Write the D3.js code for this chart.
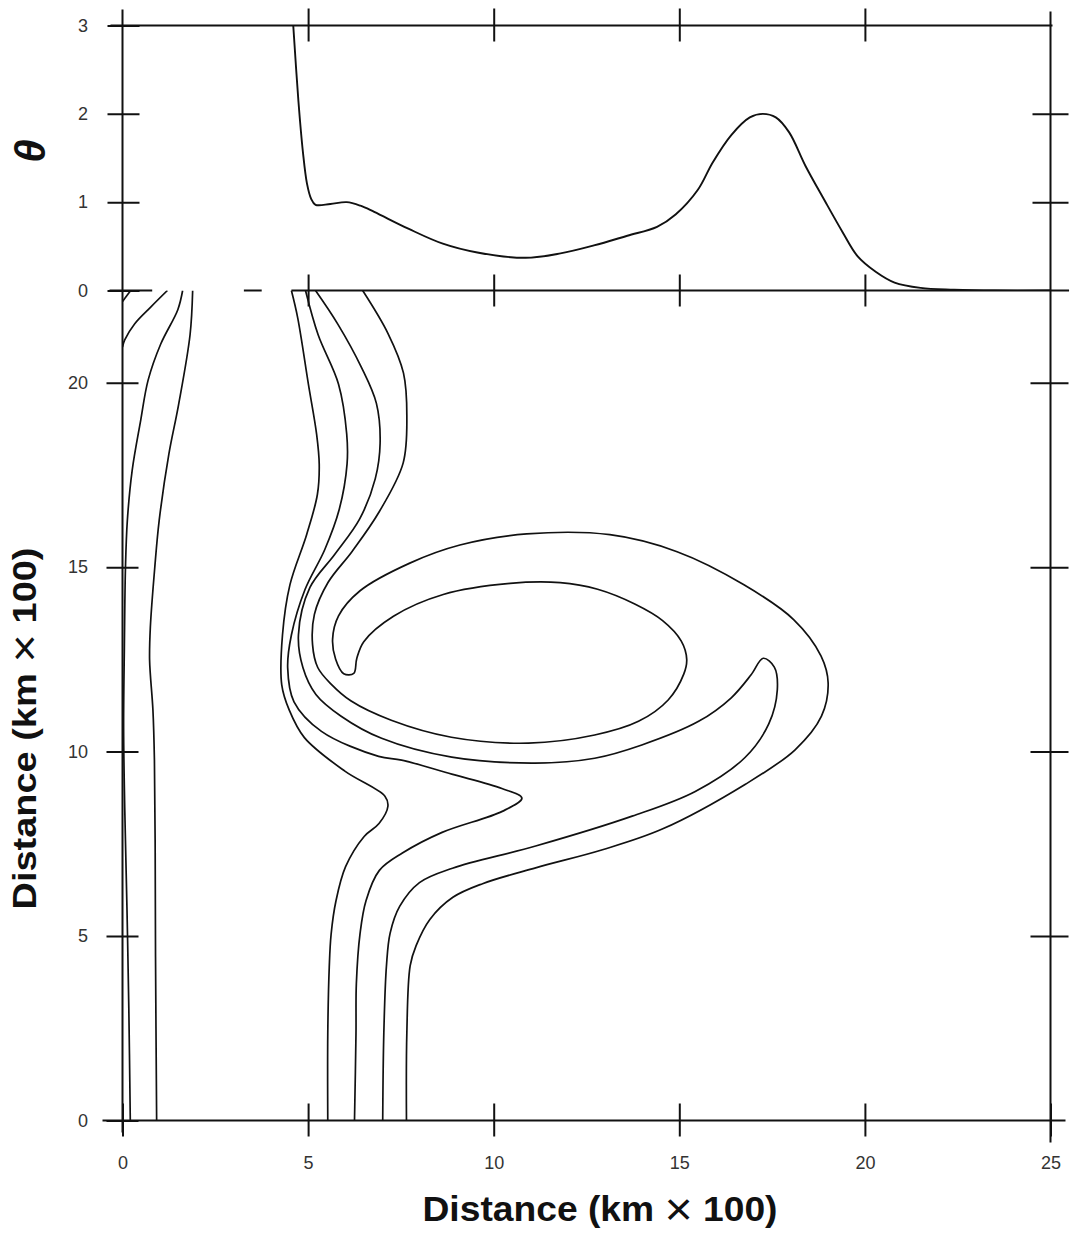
<!DOCTYPE html>
<html><head><meta charset="utf-8">
<script src="https://cdn.jsdelivr.net/npm/d3@7"></script>
<style>body{margin:0;background:#fff}svg{display:block}</style>
</head><body>
<svg id="chart" width="1070" height="1235"></svg>
<script>
// ---------- data ----------
const xTickValues = [0, 5, 10, 15, 20, 25];
const thetaTickValues = [0, 1, 2, 3];
const yTickValues = [0, 5, 10, 15, 20];
const thetaInnerTicks = [5, 10, 15, 20];
const rightThetaTicks = [1, 2];
const rightYTicks = [5, 10, 15, 20];

// theta profile (top panel)
const thetaDist = [4.6, 4.74, 4.86, 4.97, 5.08, 5.2, 5.6, 6.04, 6.41, 6.78, 7.7, 8.63, 9.56, 10.86, 11.8, 12.7, 13.6, 14.4, 14.9, 15.5, 15.9, 16.4, 16.9, 17.25, 17.6, 17.96, 18.4, 18.9, 19.4, 19.8, 20.3, 20.8, 21.5, 22.4, 23.5, 25];
const thetaVal  = [3.0, 2.14, 1.57, 1.21, 1.04, 0.97, 0.98, 1.0, 0.96, 0.89, 0.70, 0.53, 0.43, 0.37, 0.42, 0.51, 0.62, 0.72, 0.86, 1.14, 1.45, 1.76, 1.96, 2.0, 1.96, 1.79, 1.41, 1.03, 0.66, 0.39, 0.21, 0.09, 0.03, 0.01, 0.0, 0.0];

// visible pieces of the theta = 0 line (scan has gaps)
const baselineSegments = [[-0.35, 0.8], [3.27, 3.75], [4.55, 25.5]];

// contour lines (distance x, distance y)
const contourCorner = [[0.0, 22.2], [0.22, 22.5]];
const contourLeftA = [[1.21, 22.5], [0.76, 22.05], [0.33, 21.6], [0.06, 21.16], [0.0, 20.97]];
const contourLeftB = [[1.62, 22.5], [1.49, 21.98], [1.03, 21.05], [0.69, 20.07], [0.49, 18.98], [0.26, 17.62], [0.13, 16.26], [0.08, 14.99], [0.05, 12.8], [0.03, 10.65], [0.06, 8.48], [0.12, 5.77], [0.17, 3.06], [0.21, 0]];
const contourLeftC = [[1.89, 22.5], [1.82, 21.3], [1.51, 19.4], [1.25, 18.07], [0.99, 16.28], [0.87, 15.0], [0.75, 13.37], [0.73, 12.48], [0.82, 11.12], [0.86, 9.77], [0.88, 7.41], [0.89, 4.43], [0.92, 0]];

const contourT1 = [[4.55, 22.5], [4.72, 21.76], [5.01, 19.95], [5.23, 18.6], [5.3, 17.78], [5.25, 16.97], [4.96, 15.88], [4.51, 14.52], [4.31, 13.16], [4.29, 11.81], [4.49, 11.13], [4.9, 10.38], [5.99, 9.47], [7.07, 8.79], [7.15, 8.52], [6.91, 8.05], [6.51, 7.7], [6.01, 6.88], [5.75, 5.95], [5.62, 5.05], [5.57, 4.16], [5.53, 2.34], [5.53, 0]];
const contourT2 = [[4.93, 22.5], [5.27, 21.3], [5.82, 19.96], [6.04, 18.61], [6.05, 17.8], [5.84, 16.57], [5.45, 15.48], [4.92, 14.4], [4.55, 13.16], [4.45, 12.27], [4.62, 11.35], [5.36, 10.55], [6.9, 9.87], [7.52, 9.77], [8.87, 9.39], [10.22, 9.0], [10.76, 8.74], [10.23, 8.38], [8.61, 7.81], [7.54, 7.25], [6.92, 6.78], [6.56, 5.96], [6.4, 5.07], [6.3, 3.71], [6.29, 2.35], [6.25, 0]];
const contourT3 = [[5.2, 22.5], [5.8, 21.59], [6.43, 20.43], [6.84, 19.44], [6.94, 18.36], [6.81, 17.4], [6.39, 16.31], [5.72, 15.35], [5.05, 14.45], [4.74, 13.17], [4.86, 12.28], [5.21, 11.55], [5.89, 10.96], [6.98, 10.36], [8.87, 9.85], [11.11, 9.69], [12.72, 9.82], [13.99, 10.18], [15.52, 10.82], [16.4, 11.46], [16.94, 12.09], [17.26, 12.53], [17.56, 12.29], [17.64, 11.67], [17.41, 10.75], [16.77, 9.84], [15.43, 8.92], [13.73, 8.25], [11.13, 7.44], [8.89, 6.84], [8.0, 6.45], [7.47, 5.81], [7.21, 5.08], [7.11, 4.18], [7.04, 2.37], [7.01, 0]];
const contourT4 = [[6.47, 22.5], [7.15, 21.34], [7.57, 20.26], [7.66, 19.1], [7.56, 17.82], [6.92, 16.51], [6.18, 15.42], [5.54, 14.59], [5.17, 13.72], [5.12, 12.9], [5.26, 12.28], [5.62, 11.83], [6.16, 11.37], [7.24, 10.85], [8.86, 10.39], [10.94, 10.23], [12.72, 10.45], [13.9, 10.82], [14.7, 11.4], [15.12, 12.1], [15.2, 12.5], [15.05, 13.0], [14.55, 13.55], [13.8, 14.0], [12.8, 14.4], [11.79, 14.58], [10.44, 14.56], [8.64, 14.26], [7.3, 13.67], [6.5, 12.98], [6.31, 12.52], [6.23, 12.12], [5.96, 12.11], [5.74, 12.51], [5.66, 13.05], [5.82, 13.68], [6.4, 14.36], [7.74, 15.11], [9.09, 15.6], [10.89, 15.9], [13.13, 15.88], [14.94, 15.42], [16.73, 14.53], [18.08, 13.58], [18.82, 12.59], [19.01, 11.86], [18.83, 10.96], [18.12, 10.05], [16.77, 9.11], [14.54, 7.9], [12.93, 7.34], [11.13, 6.85], [9.7, 6.42], [8.9, 6.05], [8.28, 5.45], [7.91, 4.74], [7.75, 4.2], [7.66, 2.37], [7.65, 0]];

const contours = [contourCorner, contourLeftA, contourLeftB, contourLeftC, contourT1, contourT2, contourT3, contourT4];

// ---------- scales ----------
const x = d3.scaleLinear().domain([0, 25]).range([122.5, 1050.5]);
const yT = d3.scaleLinear().domain([0, 3]).range([290.5, 25.5]);
const yB = d3.scaleLinear().domain([0, 22.5]).range([1120.5, 290.5]);

const svg = d3.select("#chart");
const INK = "#111";
const FONT = "'Liberation Sans', Arial, Helvetica, sans-serif";

// clip paths
const defs = svg.append("defs");
defs.append("clipPath").attr("id", "clipB")
  .append("rect").attr("x", x(0)).attr("y", yB(22.5))
  .attr("width", x(25) - x(0)).attr("height", yB(0) - yB(22.5));
defs.append("clipPath").attr("id", "clipT")
  .append("rect").attr("x", x(0)).attr("y", yT(3))
  .attr("width", x(25) - x(0)).attr("height", yT(0) - yT(3));

// ---------- frame lines ----------
const frame = svg.append("g").attr("stroke", INK).attr("stroke-width", 2).attr("fill", "none");
frame.append("line").attr("x1", x(0)).attr("x2", x(0)).attr("y1", yT(3) - 16).attr("y2", yB(0) + 12);
frame.append("line").attr("x1", x(25)).attr("x2", x(25)).attr("y1", yT(3) - 14).attr("y2", yB(0) + 22);
frame.append("line").attr("x1", x(0) - 12).attr("x2", x(25) + 2).attr("y1", yT(3)).attr("y2", yT(3));
frame.append("line").attr("x1", x(0) - 20).attr("x2", x(25) + 15).attr("y1", yB(0)).attr("y2", yB(0));
frame.selectAll("line.base").data(baselineSegments).join("line").attr("class", "base")
  .attr("x1", d => x(d[0])).attr("x2", d => x(d[1]))
  .attr("y1", yT(0)).attr("y2", yT(0));

function styleAxis(g) {
  g.select(".domain").remove();
  g.attr("font-family", FONT).attr("font-size", 18);
  g.selectAll(".tick line").attr("stroke", INK).attr("stroke-width", 2);
  g.selectAll(".tick text").attr("fill", "#333");
}

// left axes
svg.append("g").attr("transform", `translate(${x(0)},0)`)
  .call(d3.axisLeft(yT).tickValues(thetaTickValues).tickSize(15).tickPadding(19.5).tickFormat(d3.format("d")))
  .call(styleAxis)
  .call(g => g.selectAll(".tick line").attr("x1", 17));
svg.append("g").attr("transform", `translate(${x(0)},0)`)
  .call(d3.axisLeft(yB).tickValues(yTickValues).tickSize(16).tickPadding(18.5).tickFormat(d3.format("d")))
  .call(styleAxis)
  .call(g => g.selectAll(".tick line").attr("x1", 16));

// bottom axis
svg.append("g").attr("transform", `translate(0,${yB(0)})`)
  .call(d3.axisBottom(x).tickValues(xTickValues).tickSize(16).tickPadding(20).tickFormat(d3.format("d")))
  .call(styleAxis)
  .call(g => g.selectAll(".tick line").attr("y1", -17));

// top axis (theta = 3) ticks
svg.append("g").attr("transform", `translate(0,${yT(3)})`)
  .call(d3.axisTop(x).tickValues(thetaInnerTicks).tickSize(17).tickFormat(""))
  .call(styleAxis)
  .call(g => g.selectAll(".tick line").attr("y1", 16));

// theta = 0 line ticks
svg.append("g").attr("transform", `translate(0,${yT(0)})`)
  .call(d3.axisTop(x).tickValues(thetaInnerTicks).tickSize(16).tickFormat(""))
  .call(styleAxis)
  .call(g => g.selectAll(".tick line").attr("y1", 16));

// right axis ticks
svg.append("g").attr("transform", `translate(${x(25)},0)`)
  .call(d3.axisRight(yT).tickValues(rightThetaTicks).tickSize(18).tickFormat(""))
  .call(styleAxis)
  .call(g => g.selectAll(".tick line").attr("x1", -18));
svg.append("g").attr("transform", `translate(${x(25)},0)`)
  .call(d3.axisRight(yB).tickValues(rightYTicks).tickSize(18).tickFormat(""))
  .call(styleAxis)
  .call(g => g.selectAll(".tick line").attr("x1", -20));

// ---------- theta curve ----------
const thetaPts = thetaDist.map((d, i) => [d, thetaVal[i]]);
svg.append("path").datum(thetaPts)
  .attr("clip-path", "url(#clipT)")
  .attr("fill", "none").attr("stroke", INK).attr("stroke-width", 1.9)
  .attr("stroke-linejoin", "round")
  .attr("d", d3.line().x(d => x(d[0])).y(d => yT(d[1])).curve(d3.curveCatmullRom.alpha(0.5)));

// ---------- contours ----------
const cline = d3.line().x(d => x(d[0])).y(d => yB(d[1])).curve(d3.curveCatmullRom.alpha(0.5));
svg.append("g").attr("clip-path", "url(#clipB)")
  .selectAll("path").data(contours).join("path")
  .attr("fill", "none").attr("stroke", INK).attr("stroke-width", 1.7)
  .attr("stroke-linejoin", "round")
  .attr("d", cline);

// ---------- titles ----------
function title(sel) {
  sel.attr("text-anchor", "middle").attr("font-family", FONT)
    .attr("font-weight", "bold").attr("fill", "#111")
    .attr("lengthAdjust", "spacingAndGlyphs");
  sel.append("tspan").text("Distance (km ");
  sel.append("tspan").attr("font-weight", "normal").attr("font-size", "1.3em").attr("dy", "0.08em").text("\u00D7");
  sel.append("tspan").attr("dy", "-0.1em").text(" 100)");
}
svg.append("text").attr("x", 600).attr("y", 1221)
  .attr("font-size", 35).attr("textLength", 355).call(title);

svg.append("text").attr("transform", "translate(36,728.5) rotate(-90)")
  .attr("font-size", 33).attr("textLength", 362).call(title);

svg.append("text").attr("transform", "translate(45,151) rotate(-90)")
  .attr("text-anchor", "middle").attr("font-family", FONT)
  .attr("font-weight", "bold").attr("font-style", "italic").attr("font-size", 42)
  .attr("fill", "#111").text("\u03B8");
</script>
</body></html>
